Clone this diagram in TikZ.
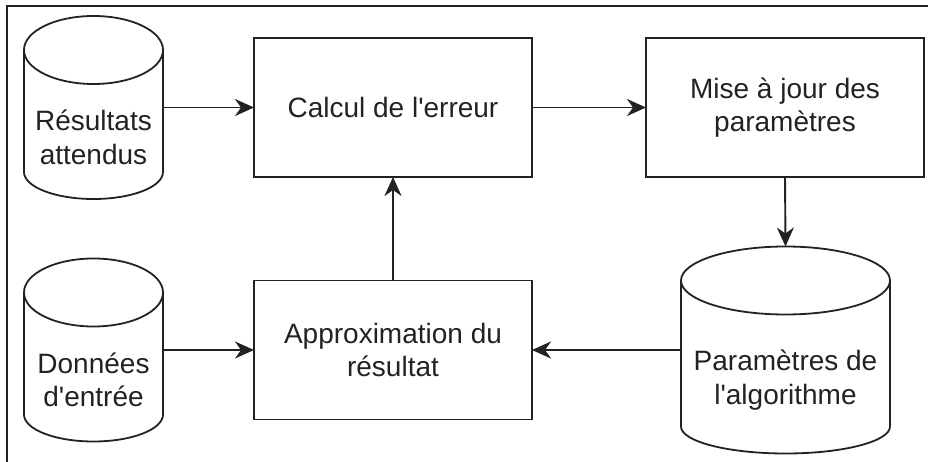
\documentclass[tikz,border=0pt]{standalone}
\usepackage{fontspec}
\setmainfont{Liberation Sans}
\usetikzlibrary{arrows.meta}
\definecolor{ink}{RGB}{34,34,34}

% outline of a vertical cylinder around an (invisible) rectangular node
\newcommand\cylout[2]{%
  \draw[cylline] ([yshift=-34pt]#1.north west) -- ([yshift=27pt]#1.south west)
    arc[start angle=180, end angle=360, x radius=#2, y radius=27pt]
    -- ([yshift=-34pt]#1.north east);
  \draw[cylline] ([yshift=-34pt]#1.north) ellipse[x radius=#2, y radius=34pt];
}

\begin{document}
\begin{tikzpicture}[x=1pt,y=-1pt,
  txt/.style={font=\fontsize{28pt}{33.6pt}\selectfont, text=ink, align=center},
  procbox/.style={txt, draw=ink, line width=1.8pt, minimum width=278pt,
    minimum height=139pt, inner sep=0pt, outer sep=0pt},
  cylbody/.style={minimum width=#1, minimum height=183pt, inner sep=0pt, outer sep=0pt},
  cylline/.style={draw=ink, line width=1.8pt},
  flow/.style={draw=ink, line width=1.9pt,
    -{Stealth[length=19pt, width=17pt, inset=6pt]}},
  frameline/.style={draw=ink, line width=1.5pt}
]
\useasboundingbox (0,0) rectangle (928,462);

% frame edges
\draw[frameline] (7,462) -- (7,6) -- (928,6);

% process boxes
\node[procbox] (calc) at (393,107.5) {Calcul de l\textquotesingle erreur};
\node[procbox] (maj) at (785,107.5) {Mise à jour des\\paramètres};
\node[procbox] (approx) at (393,350) {Approximation du\\résultat};

% data stores
\node[cylbody=139pt] (res) at (93.5,107.5) {};
\cylout{res}{69.5pt}
\node[txt] (res-t) at (93.5,137.5) {Résultats\\attendus};

\node[cylbody=139pt] (don) at (93.5,350) {};
\cylout{don}{69.5pt}
\node[txt] (don-t) at (93.5,380) {Données\\d\textquotesingle entrée};

\node[cylbody=209pt, minimum height=207pt] (par) at (785.5,350) {};
\cylout{par}{104.5pt}
\node[txt] (par-t) at (785.5,380) {Paramètres de\\l\textquotesingle algorithme};

% flows
\draw[flow] (res.east) -- (calc.west);
\draw[flow] (calc.east) -- (maj.west);
\draw[flow] (maj.south) -- (par.north);
\draw[flow] (par.west) -- (approx.east);
\draw[flow] (don.east) -- (approx.west);
\draw[flow] (approx.north) -- (calc.south);
\end{tikzpicture}
\end{document}
